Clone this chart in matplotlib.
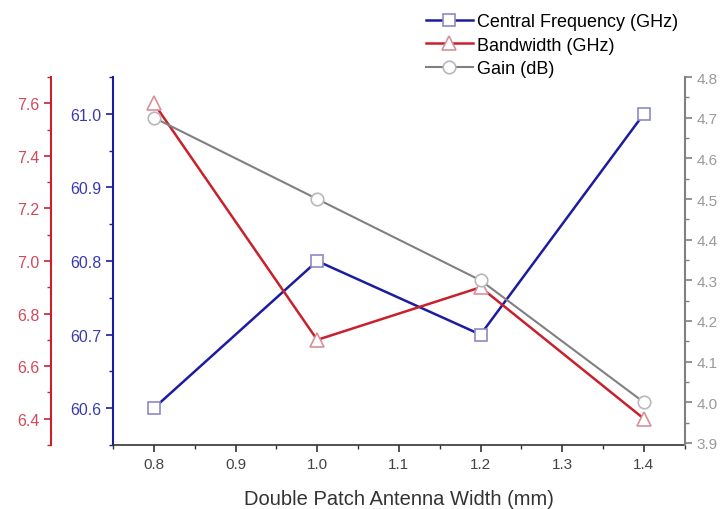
import matplotlib
matplotlib.use("Agg")
import matplotlib.pyplot as plt
from matplotlib.ticker import MultipleLocator, FormatStrFormatter

plt.rcParams['font.family'] = ['Liberation Sans', 'DejaVu Sans']

widths = [0.8, 1.0, 1.2, 1.4]
central_freq = [60.6, 60.8, 60.7, 61.0]
bandwidth = [7.6, 6.7, 6.9, 6.4]
gain = [4.7, 4.5, 4.3, 4.0]
labels = ["Central Frequency (GHz)", "Bandwidth (GHz)", "Gain (dB)"]

blue = '#1c1ca0'
red = '#c8202c'
gray = '#808080'
blue_lab = '#3a3ab0'
red_lab = '#d04a5a'
gray_lab = '#9a9a9a'

fig = plt.figure(figsize=(7.2, 5.1), dpi=100)
ax = fig.add_axes([0.157, 0.1255, 0.794, 0.7215])
ax_r = ax.twinx()
ax_g = ax.twinx()

l1, = ax.plot(widths, central_freq, color=blue, lw=1.8, marker='s', ms=9,
              mfc='white', mec='#8a8ac8', mew=1.2, zorder=3)
l2, = ax_r.plot(widths, bandwidth, color=red, lw=1.8, marker='^', ms=10,
                mfc='white', mec='#d89098', mew=1.2, zorder=3)
l3, = ax_g.plot(widths, gain, color=gray, lw=1.5, marker='o', ms=9,
                mfc='white', mec='#b8b8b8', mew=1.2, zorder=3)

ax.set_xlim(0.75, 1.45)
ax.set_ylim(60.55, 61.05)
ax_r.set_ylim(6.3, 7.7)
ax_g.set_ylim(3.895, 4.8)

ax.xaxis.set_major_locator(MultipleLocator(0.1))
ax.xaxis.set_minor_locator(MultipleLocator(0.05))
ax.xaxis.set_major_formatter(FormatStrFormatter('%.1f'))
ax.set_xlabel("Double Patch Antenna Width (mm)", fontsize=14.5, color='#333333', labelpad=13)

for a in (ax, ax_r, ax_g):
    a.spines['top'].set_visible(False)
ax.spines['right'].set_visible(False)
ax.spines['left'].set_color(blue)
ax.spines['left'].set_linewidth(1.5)
ax.spines['bottom'].set_color('#333333')
ax.spines['bottom'].set_linewidth(1.2)

ax_r.spines['right'].set_visible(False)
ax_r.spines['bottom'].set_visible(False)
ax_r.spines['left'].set_visible(True)
ax_r.spines['left'].set_position(('outward', 44.6))
ax_r.spines['left'].set_color(red)
ax_r.spines['left'].set_linewidth(1.5)
ax_r.yaxis.set_ticks_position('left')
ax_r.yaxis.set_label_position('left')

ax_g.spines['left'].set_visible(False)
ax_g.spines['bottom'].set_visible(False)
ax_g.spines['right'].set_color(gray)
ax_g.spines['right'].set_linewidth(1.5)

ax.yaxis.set_major_locator(MultipleLocator(0.1))
ax.yaxis.set_minor_locator(MultipleLocator(0.05))
ax.yaxis.set_major_formatter(FormatStrFormatter('%.1f'))
ax.tick_params(axis='y', which='both', colors=blue, labelcolor=blue_lab, labelsize=11.5, direction='out')
ax.tick_params(axis='x', which='both', colors='#333333', labelcolor='#444444', labelsize=11, direction='out')
ax.tick_params(which='major', length=5, width=1.2)
ax.tick_params(which='minor', length=3, width=1.0)

ax_r.yaxis.set_major_locator(MultipleLocator(0.2))
ax_r.yaxis.set_minor_locator(MultipleLocator(0.1))
ax_r.yaxis.set_major_formatter(FormatStrFormatter('%.1f'))
ax_r.tick_params(axis='y', which='both', colors=red, labelcolor=red_lab, labelsize=11.5, direction='out')
ax_r.tick_params(which='major', length=5, width=1.2)
ax_r.tick_params(which='minor', length=3, width=1.0)

ax_g.yaxis.set_major_locator(MultipleLocator(0.1))
ax_g.yaxis.set_minor_locator(MultipleLocator(0.05))
ax_g.yaxis.set_major_formatter(FormatStrFormatter('%.1f'))
ax_g.tick_params(axis='y', which='both', colors=gray, labelcolor=gray_lab, labelsize=11, direction='out')
ax_g.tick_params(which='major', length=5, width=1.2)
ax_g.tick_params(which='minor', length=3, width=1.0)

handles = [l1, l2, l3]
fig.legend(handles, labels, loc='upper left', bbox_to_anchor=(0.575, 0.995),
           frameon=False, fontsize=13, handlelength=2.6, handletextpad=0.25,
           labelspacing=0.35, borderaxespad=0.25)

fig.savefig("out.png", dpi=100, facecolor='white')
